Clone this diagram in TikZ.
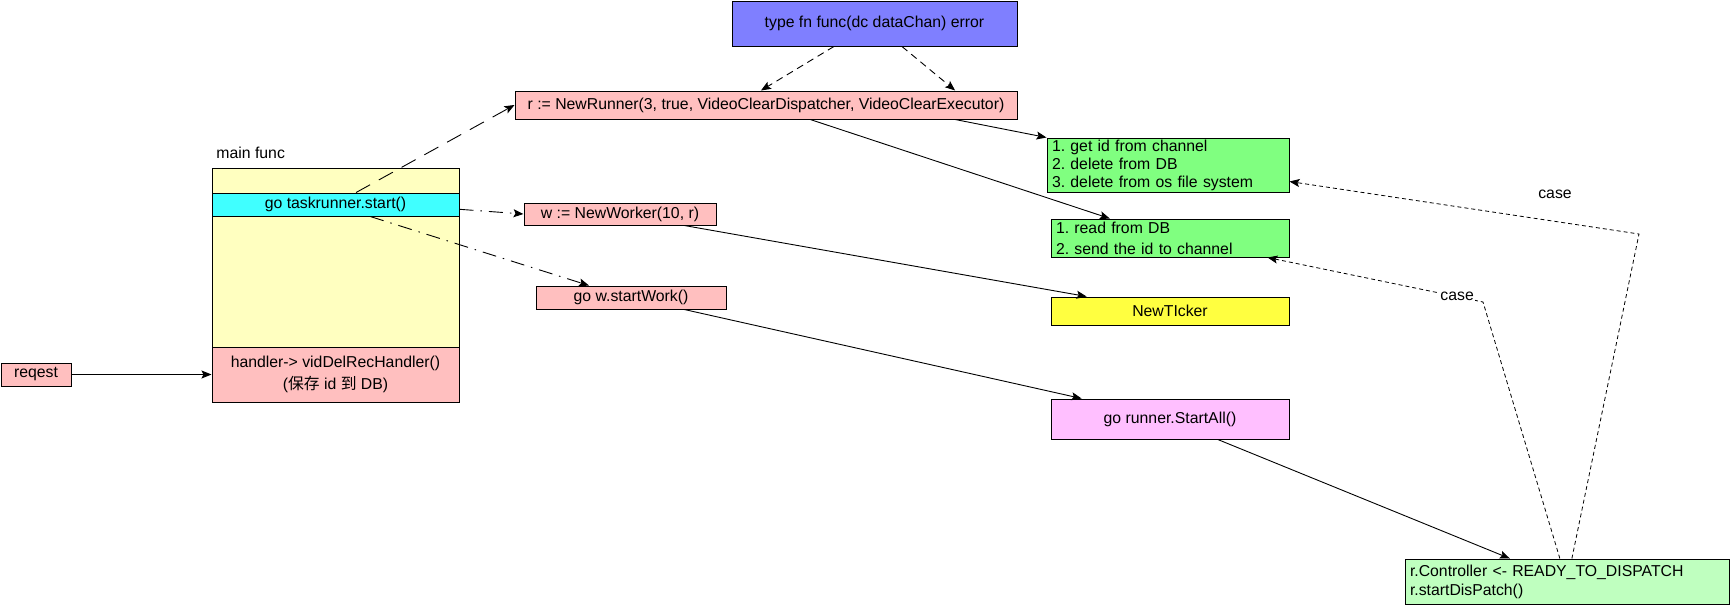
\documentclass[tikz,border=0pt]{standalone}
\usepackage{fontspec}
\setmainfont{Liberation Sans}
\newfontfamily\cjk{Noto Sans CJK SC}
\usetikzlibrary{calc,arrows.meta}
\definecolor{fnblue}{RGB}{127,127,255}
\definecolor{callpink}{RGB}{255,191,191}
\definecolor{mainyellow}{RGB}{255,255,192}
\definecolor{taskcyan}{RGB}{64,255,255}
\definecolor{workgreen}{RGB}{128,255,128}
\definecolor{tickyellow}{RGB}{255,255,64}
\definecolor{allpink}{RGB}{255,191,255}
\definecolor{ctrlgreen}{RGB}{191,255,191}
\frenchspacing

\begin{document}
\begin{tikzpicture}[x=1pt,y=-1pt,font=\fontsize{15.8}{19}\selectfont,
  line width=0.9pt,
  blk/.style={draw,rectangle,inner sep=0pt,line width=1pt},
  steps/.style={blk,align=left,inner xsep=5pt},
  tip/.style={-{Stealth[length=10pt,width=8pt,inset=2pt]}},
  fndash/.style={tip,dash pattern=on 7pt off 5pt},
  longdash/.style={tip,dash pattern=on 16pt off 10pt},
  dashdot/.style={tip,dash pattern=on 14pt off 7pt on 1.5pt off 7pt},
  casedash/.style={tip,line width=0.8pt,dash pattern=on 4pt off 3pt}]

\useasboundingbox (0,0) rectangle (1730,605);

% main func
\node[anchor=west,inner sep=0pt] (mainlbl) at (216,153) {main func};
\node[blk,fill=mainyellow,minimum width=247pt,minimum height=234pt] (mainbox) at (335.5,285) {};
\node[blk,fill=taskcyan,minimum width=247pt,minimum height=23pt] (gotask) at (335.5,204.5) {go taskrunner.start()};
\node[blk,fill=callpink,minimum width=247pt,minimum height=55pt,align=center,
  font=\fontsize{15.8}{22}\selectfont] (handler) at (335.5,374.5)
  {handler-> vidDelRecHandler()\\({\cjk 保存} id {\cjk 到} DB)};
\node[blk,fill=callpink,minimum width=70pt,minimum height=23pt] (reqest) at (36,374.5) {reqest};

% runner, worker
\node[blk,fill=fnblue,minimum width=285pt,minimum height=45pt] (tfn) at (874.5,23.5) {type fn func(dc dataChan) error};
\node[blk,fill=callpink,minimum width=502pt,minimum height=28pt] (runner) at (766,105)
  {r := NewRunner(3, true, VideoClearDispatcher, VideoClearExecutor)};
\node[blk,fill=callpink,minimum width=192pt,minimum height=22pt] (worker) at (620,214) {w := NewWorker(10, r)};
\node[blk,fill=callpink,minimum width=190pt,minimum height=23pt] (startwork) at (631,297.5) {go w.startWork()};

% right column
\node[steps,fill=workgreen,text width=232pt,minimum height=54pt,
  font=\fontsize{15.8}{18}\selectfont] (exec) at (1168,165)
  {1. get id from channel\\2. delete from DB\\3. delete from os file system};
\node[steps,fill=workgreen,text width=228pt,minimum height=38pt,
  font=\fontsize{15.8}{21}\selectfont] (disp) at (1170,238)
  {1. read from DB\\2. send the id to channel};
\node[blk,fill=tickyellow,minimum width=238pt,minimum height=28pt] (ticker) at (1170,311) {NewTIcker};
\node[blk,fill=allpink,minimum width=238pt,minimum height=40pt] (startall) at (1170,419) {go runner.StartAll()};
\node[steps,fill=ctrlgreen,text width=314pt,minimum height=45pt] (ctrl) at (1567,581.5)
  {r.Controller <- READY\_TO\_DISPATCH\\r.startDisPatch()};

% calls
\draw[fndash] ($(tfn.south west)!.358!(tfn.south east)$) -- ($(runner.north west)!.49!(runner.north east)$);
\draw[fndash] ($(tfn.south west)!.596!(tfn.south east)$) -- ($(runner.north west)!.876!(runner.north east)$);
\draw[longdash] ($(gotask.north west)!.583!(gotask.north east)$) -- (runner.west);
\draw[dashdot] ($(gotask.north east)!.7!(gotask.south east)$) -- (worker.west);
\draw[dashdot] ($(gotask.south west)!.64!(gotask.south east)$) -- ($(startwork.north west)!.28!(startwork.north east)$);
\draw[tip] (reqest) -- (handler);
\draw[tip] ($(runner.south west)!.876!(runner.south east)$) -- (exec.north west);
\draw[tip] ($(runner.south west)!.588!(runner.south east)$) -- ($(disp.north west)!.248!(disp.north east)$);
\draw[tip] ($(worker.south west)!.833!(worker.south east)$) -- ($(ticker.north west)!.151!(ticker.north east)$);
\draw[tip] ($(startwork.south west)!.779!(startwork.south east)$) -- ($(startall.north west)!.13!(startall.north east)$);
\draw[tip] ($(startall.south west)!.7!(startall.south east)$) -- ($(ctrl.north west)!.324!(ctrl.north east)$);

% case
\coordinate (bendexec) at (1639,234);
\coordinate (benddisp) at (1483,302);
\draw[casedash] ($(ctrl.north west)!.515!(ctrl.north east)$) -- (bendexec)
  -- ($(exec.north east)!.8!(exec.south east)$);
\node (caseexec) at (1555,194) {case};
\draw[casedash] ($(ctrl.north west)!.478!(ctrl.north east)$) -- (benddisp)
  -- node[fill=white,inner sep=1pt,pos=.12] (casedisp) {case} ($(disp.south west)!.908!(disp.south east)$);

\end{tikzpicture}
\end{document}
